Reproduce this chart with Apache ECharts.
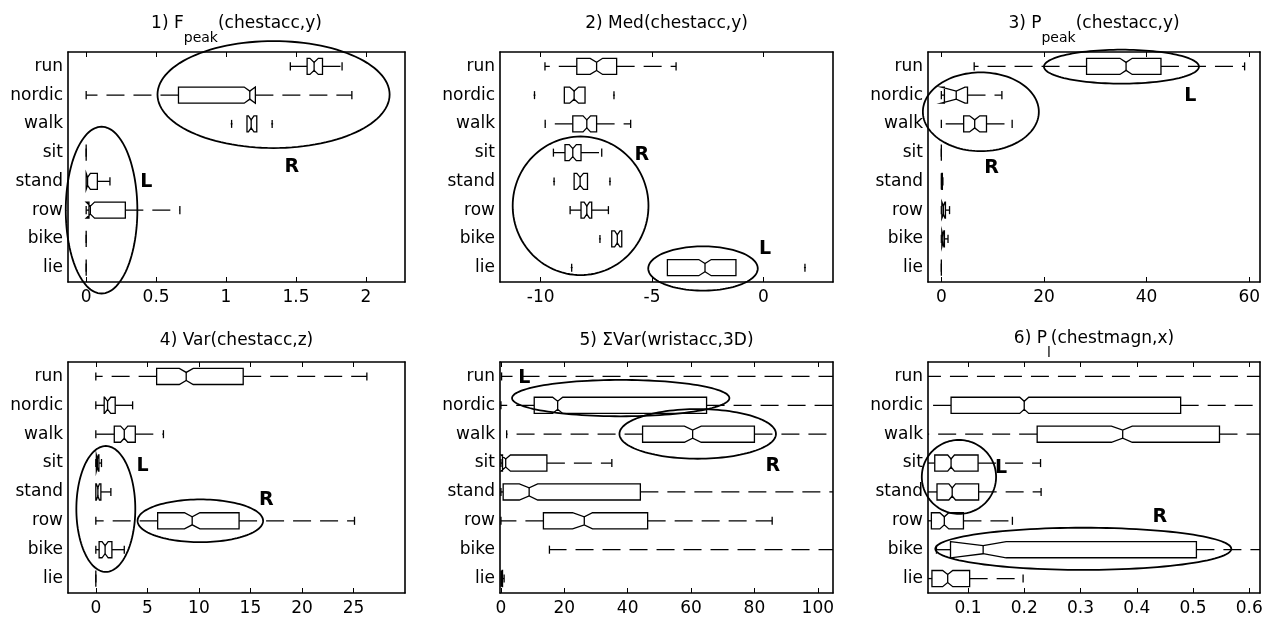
<!DOCTYPE html>
<html>
<head>
<meta charset="utf-8">
<script src="https://cdn.jsdelivr.net/npm/echarts@6/dist/echarts.min.js"></script>
<style>html,body{margin:0;background:#fff}#main{width:1269px;height:622px}</style>
</head>
<body>
<div id="main"></div>
<script>
var categories = ['run', 'nordic', 'walk', 'sit', 'stand', 'row', 'bike', 'lie'];

// each row: [whiskerLo, q1, notchLo, median, notchHi, q3, whiskerHi]
var fpeakStats = [
    [1.46, 1.58, 1.60, 1.63, 1.66, 1.69, 1.83],
    [0, 0.66, 1.13, 1.17, 1.21, 1.21, 1.90],
    [1.15, 1.15, 1.16, 1.18, 1.20, 1.22, 1.22],
    [0, 0, 0, 0, 0, 0, 0],
    [0, 0, 0, 0.01, 0.03, 0.08, 0.17],
    [0, 0.02, 0.0, 0.03, 0.06, 0.28, 0.67],
    [0, 0, 0, 0, 0, 0, 0],
    [0, 0, 0, 0, 0, 0, 0]
];
var fpeakOutliers = [[1.04, 3], [1.33, 3]];
var fpeakEllipses = [[1.34, 1.98, 0.83, 1.86], [0.11, 6.0, 0.256, 2.9]];   // [cx, row, rx, rows]
var fpeakMarks = [['R', 1.47, 4.5], ['L', 0.43, 5.03]];
var fpeakTicks = [0, 0.5, 1, 1.5, 2];

var medStats = [
    [-9.81, -8.38, -7.78, -7.49, -7.22, -6.59, -3.92],
    [-8.94, -8.94, -8.70, -8.50, -8.30, -8.01, -8.01],
    [-9.80, -8.56, -8.10, -7.93, -7.76, -7.49, -5.96],
    [-9.43, -8.91, -8.72, -8.56, -8.40, -8.19, -7.26],
    [-8.50, -8.50, -8.38, -8.23, -8.08, -7.90, -7.90],
    [-8.68, -8.19, -8.05, -7.93, -7.81, -7.71, -6.96],
    [-6.81, -6.81, -6.68, -6.56, -6.44, -6.36, -6.36],
    [-4.31, -4.31, -2.90, -2.62, -2.34, -1.23, -1.23]
];
var medOutliers = [[-10.28, 2], [-6.71, 2], [-9.4, 5], [-6.89, 5], [-7.34, 7], [-8.61, 8], [1.87, 8]];
var medEllipses = [[-8.21, 5.85, 3.05, 2.41], [-2.71, 8.03, 2.46, 0.77]];
var medMarks = [['R', -5.46, 4.1], ['L', 0.08, 7.35]];
var medTicks = [-10, -5, 0];

var ppeakStats = [
    [6.4, 28.3, 34.8, 36.0, 37.2, 42.8, 59.1],
    [0, 0.6, 0.0, 2.9, 4.6, 5.1, 11.8],
    [0, 4.35, 5.5, 6.5, 7.5, 8.8, 13.8],
    [0, 0, 0, 0, 0, 0, 0],
    [0, 0, 0, 0.05, 0.1, 0.2, 0.3],
    [0, 0.1, 0.1, 0.4, 0.7, 0.8, 1.6],
    [0, 0.1, 0.1, 0.3, 0.5, 0.6, 1.3],
    [0, 0, 0, 0, 0, 0, 0]
];
var ppeakOutliers = [];
var ppeakEllipses = [[35.1, 1.01, 15.1, 0.59], [7.7, 2.58, 11.3, 1.37]];
var ppeakMarks = [['L', 48.5, 2.03], ['R', 9.8, 4.54]];
var ppeakTicks = [0, 20, 40, 60];

var varStats = [
    [0, 5.9, 8.1, 8.77, 9.45, 14.3, 26.3],
    [0, 0.81, 0.85, 1.14, 1.45, 1.88, 3.57],
    [0, 1.79, 2.4, 2.76, 3.1, 3.83, 6.56],
    [0, 0.05, 0.05, 0.15, 0.25, 0.3, 0.55],
    [0, 0, 0.05, 0.2, 0.35, 0.49, 1.46],
    [0, 6.0, 8.6, 9.35, 10.1, 13.9, 25.1],
    [0, 0.32, 0.6, 0.9, 1.2, 1.56, 2.76],
    [0, 0, 0, 0, 0, 0, 0]
];
var varOutliers = [];
var varEllipses = [[0.97, 5.59, 2.86, 2.18], [10.14, 6.0, 6.09, 0.74]];
var varMarks = [['L', 4.54, 4.12], ['R', 16.55, 5.29]];
var varTicks = [0, 5, 10, 15, 20, 25];

var sumVarStats = [
    [0.2, 140, 150, 160, 170, 180, 400],
    [0, 10.5, 16.3, 17.9, 19.5, 64.9, 140],
    [1.8, 44.7, 57.9, 60.5, 63.2, 80, 140],
    [0, 0.5, 0, 1.5, 3, 14.5, 35],
    [0, 0.7, 5.8, 8.9, 11.6, 44, 140],
    [0, 13.4, 22.6, 26.3, 28.9, 46.3, 85.6],
    [15.3, 140, 150, 160, 170, 180, 400],
    [0, 0, 0, 0.2, 0.4, 0.5, 1]
];
var sumVarOutliers = [];
var sumVarEllipses = [[37.8, 1.75, 34.3, 0.63], [62.1, 2.99, 24.7, 0.86]];
var sumVarMarks = [['L', 7.4, 1.06], ['R', 85.8, 4.09]];
var sumVarTicks = [0, 20, 40, 60, 80, 100];

var plStats = [
    [-0.1, 0.0, 0.005, 0.01, 0.015, 0.02, 0.9],
    [0.0, 0.070, 0.192, 0.200, 0.208, 0.478, 0.9],
    [0.0, 0.223, 0.355, 0.375, 0.392, 0.547, 0.9],
    [0.0, 0.041, 0.064, 0.070, 0.076, 0.118, 0.229],
    [0.0, 0.045, 0.066, 0.072, 0.078, 0.119, 0.230],
    [0.0, 0.035, 0.050, 0.058, 0.066, 0.092, 0.179],
    [0.044, 0.069, 0.069, 0.127, 0.168, 0.506, 0.9],
    [0.0, 0.036, 0.055, 0.064, 0.073, 0.103, 0.198]
];
var plOutliers = [];
var plEllipses = [[0.084, 4.48, 0.066, 1.28], [0.305, 6.97, 0.263, 0.73]];
var plMarks = [['L', 0.159, 4.16], ['R', 0.441, 5.88]];
var plTicks = [0.1, 0.2, 0.3, 0.4, 0.5, 0.6];

var panels = [
    {title: '1) F{s|peak}(chestacc,y)', stats: fpeakStats, out: fpeakOutliers, ell: fpeakEllipses, marks: fpeakMarks, ticks: fpeakTicks, min: -0.13, max: 2.28},
    {title: '2) Med(chestacc,y)', stats: medStats, out: medOutliers, ell: medEllipses, marks: medMarks, ticks: medTicks, min: -11.83, max: 3.13},
    {title: '3) P{s|peak}(chestacc,y)', stats: ppeakStats, out: ppeakOutliers, ell: ppeakEllipses, marks: ppeakMarks, ticks: ppeakTicks, min: -2.6, max: 62.1},
    {title: '4) Var(chestacc,z)', stats: varStats, out: varOutliers, ell: varEllipses, marks: varMarks, ticks: varTicks, min: -2.7, max: 30},
    {title: '5) \u03a3Var(wristacc,3D)', stats: sumVarStats, out: sumVarOutliers, ell: sumVarEllipses, marks: sumVarMarks, ticks: sumVarTicks, min: -0.3, max: 104.8},
    {title: '6) P{s|l}(chestmagn,x)', stats: plStats, out: plOutliers, ell: plEllipses, marks: plMarks, ticks: plTicks, min: 0.029, max: 0.619}
];

// [left, top, width, height]
var layout = [[68, 52, 337, 230], [500, 52, 333, 230], [928, 52, 332, 230],
              [68, 362, 337, 231], [500, 362, 333, 231], [928, 362, 332, 231]];
var titleTop = [3, 3, 3, 320, 320, 318];

var FONT = 'DejaVu Sans';
var black = '#000';

function renderBox(params, api) {
    var row = api.value(0);
    var wl = api.value(1), q1 = api.value(2), nl = api.value(3), md = api.value(4),
        nh = api.value(5), q3 = api.value(6), wh = api.value(7);
    var band = api.size([0, 1])[1];
    var h = band * 0.28, n = h * 0.5, cap = band * 0.14;
    var c = function (v, dy) { var p = api.coord([v, row]); return [p[0], p[1] + dy]; };
    var lineStyle = {stroke: black, lineWidth: 1.3, fill: null};
    var dashStyle = {stroke: black, lineWidth: 1.3, lineDash: [18, 9], fill: null};
    var kids = [];
    if (wl < q1) {
        kids.push({type: 'polyline', shape: {points: [c(q1, 0), c(wl, 0)]}, style: dashStyle});
        kids.push({type: 'polyline', shape: {points: [c(wl, -cap), c(wl, cap)]}, style: lineStyle});
    }
    if (wh > q3) {
        kids.push({type: 'polyline', shape: {points: [c(q3, 0), c(wh, 0)]}, style: dashStyle});
        kids.push({type: 'polyline', shape: {points: [c(wh, -cap), c(wh, cap)]}, style: lineStyle});
    }
    kids.push({type: 'polygon', shape: {points: [
        c(q1, -h), c(nl, -h), c(md, -n), c(nh, -h), c(q3, -h),
        c(q3, h), c(nh, h), c(md, n), c(nl, h), c(q1, h)]},
        style: {stroke: black, lineWidth: 1.3, fill: '#fff'}});
    kids.push({type: 'polyline', shape: {points: [c(md, -n), c(md, n)]}, style: lineStyle});
    return {type: 'group', children: kids};
}

function renderOutlier(params, api) {
    var p = api.coord([api.value(0), api.value(1)]);
    return {type: 'group', children: [
        {type: 'line', shape: {x1: p[0], y1: p[1] - 4, x2: p[0], y2: p[1] + 4}, style: {stroke: black, lineWidth: 1.3}},
        {type: 'line', shape: {x1: p[0] - 1, y1: p[1], x2: p[0] + 1, y2: p[1]}, style: {stroke: black, lineWidth: 1}}
    ]};
}

function renderEllipse(params, api) {
    var c = api.coord([api.value(0), api.value(1)]);
    var r = api.size([api.value(2), api.value(3)]);
    var pts = [];
    for (var k = 0; k < 120; k++) {
        var a = k / 120 * Math.PI * 2;
        pts.push([c[0] + r[0] * Math.cos(a), c[1] + r[1] * Math.sin(a)]);
    }
    return {type: 'polygon', shape: {points: pts}, style: {fill: null, stroke: black, lineWidth: 1.8}};
}

var option = {
    backgroundColor: '#fff',
    animation: false,
    title: [], grid: [], xAxis: [], yAxis: [], series: []
};

panels.forEach(function (pn, i) {
    var L = layout[i];
    option.grid.push({left: L[0], top: L[1], width: L[2], height: L[3], show: false});
    option.title.push({
        text: pn.title, left: L[0] + L[2] / 2, top: titleTop[i], textAlign: 'center', padding: 0,
        textStyle: {fontFamily: FONT, fontSize: 17, fontWeight: 'normal', color: black, lineHeight: 42,
            rich: {s: {fontFamily: FONT, fontSize: 14, color: black, lineHeight: 15, verticalAlign: 'bottom'}}}
    });
    var axLine = {show: true, onZero: false, lineStyle: {color: black, width: 1.6}};
    var xBase = {type: 'value', gridIndex: i, min: pn.min, max: pn.max, splitLine: {show: false}, axisLine: axLine};
    option.xAxis.push(Object.assign({}, xBase, {position: 'bottom',
        axisTick: {inside: true, length: 5, customValues: pn.ticks, lineStyle: {color: black}},
        axisLabel: {customValues: pn.ticks, margin: 7, fontFamily: FONT, fontSize: 17, color: black}}));
    option.xAxis.push(Object.assign({}, xBase, {position: 'top',
        axisTick: {inside: true, length: 5, customValues: pn.ticks, lineStyle: {color: black}},
        axisLabel: {show: false}}));
    var yBase = {type: 'category', gridIndex: i, data: categories, inverse: true, axisLine: axLine,
        axisTick: {inside: true, length: 5, alignWithLabel: true, lineStyle: {color: black}}};
    option.yAxis.push(Object.assign({}, yBase, {position: 'left',
        axisLabel: {margin: 5, fontFamily: FONT, fontSize: 17, color: black}}));
    option.yAxis.push(Object.assign({}, yBase, {position: 'right', axisLabel: {show: false}}));
    option.yAxis.push({type: 'value', gridIndex: i, min: 0.5, max: 8.5, inverse: true, show: false});

    var xi = i * 2, yi = i * 3 + 2;
    option.series.push({type: 'custom', xAxisIndex: xi, yAxisIndex: yi, clip: true, silent: true,
        renderItem: renderBox, encode: {x: 1, y: 0},
        data: pn.stats.map(function (s, k) { return [k + 1].concat(s); })});
    option.series.push({type: 'custom', xAxisIndex: xi, yAxisIndex: yi, clip: true, silent: true,
        renderItem: renderOutlier, data: pn.out});
    option.series.push({type: 'custom', xAxisIndex: xi, yAxisIndex: yi, clip: false, silent: true, z: 5,
        renderItem: renderEllipse, data: pn.ell});
    option.series.push({type: 'custom', xAxisIndex: xi, yAxisIndex: yi, clip: false, silent: true, z: 6,
        renderItem: function (params, api) {
            var p = api.coord([api.value(0), api.value(1)]);
            return {type: 'text', x: p[0], y: p[1], style: {text: pn.marks[params.dataIndex][0],
                font: 'bold 19px "DejaVu Sans"', fill: black, align: 'center', verticalAlign: 'middle'}};
        },
        data: pn.marks.map(function (m) { return [m[1], m[2]]; })});
});

var myChart = echarts.init(document.getElementById('main'));
myChart.setOption(option);
</script>
</body>
</html>
